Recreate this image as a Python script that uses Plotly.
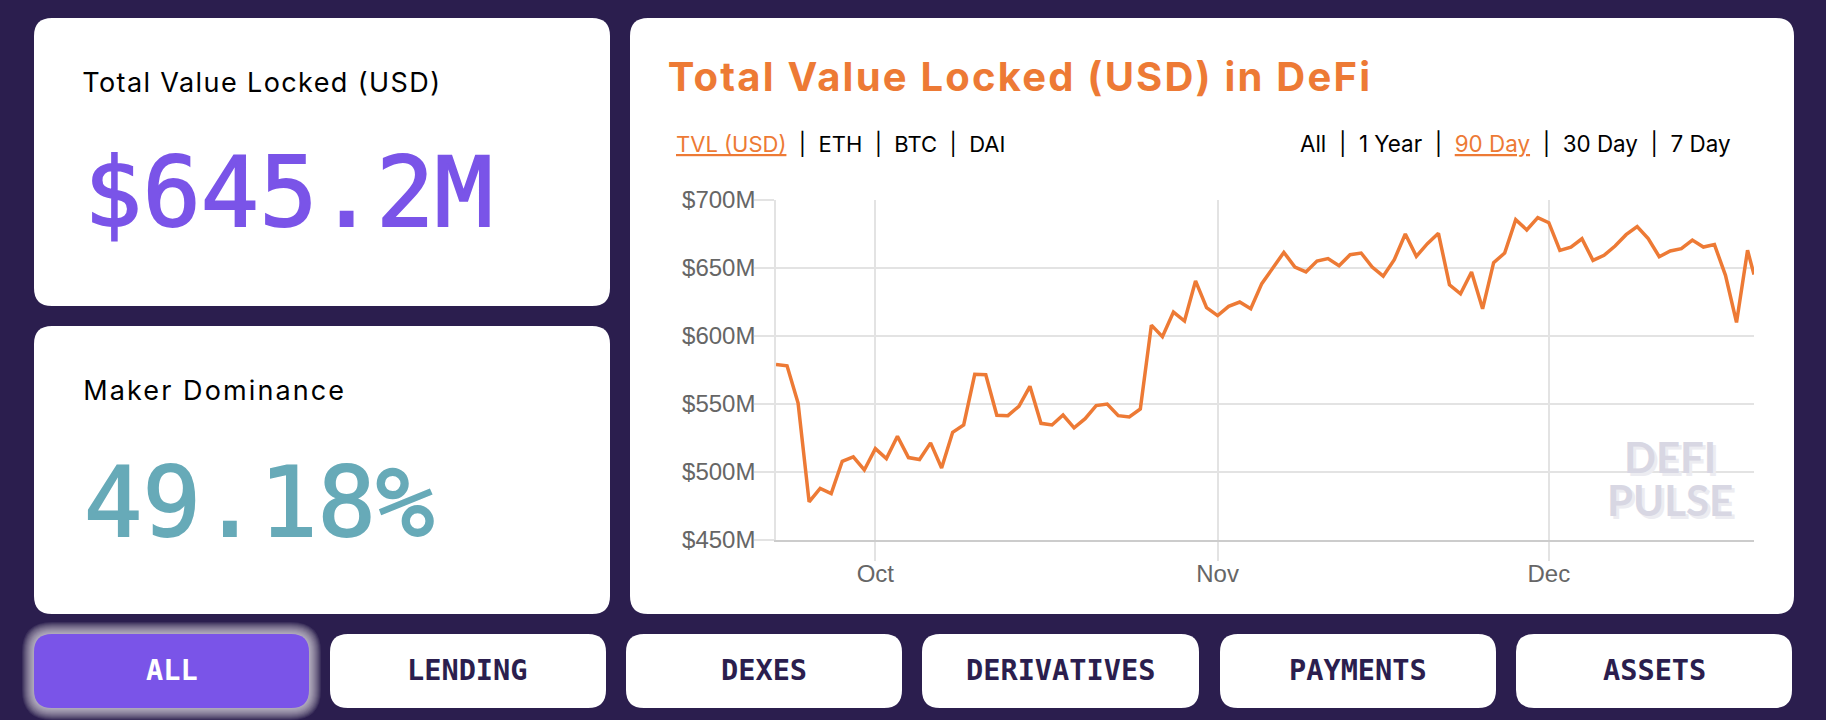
import pandas as pd
import plotly.graph_objects as go

# data (TVL in millions of USD, one point per day)
first_day = "2019-09-22"
last_stamp = "2019-12-19 14:00"
tvl = [
    579.1, 578.1, 550.7, 478.0, 487.9, 484.2, 507.9, 511.1, 501.5, 517.2,
    509.9, 526.3, 510.6, 509.2, 521.4, 503.0, 529.2, 534.6, 571.8, 571.5,
    541.7, 541.4, 548.3, 563.0, 535.8, 534.6, 541.9, 532.5, 539.2, 548.8,
    550.0, 541.4, 540.5, 546.3, 608.0, 599.5, 617.6, 611.0, 640.5, 620.8,
    615.0, 621.8, 625.0, 620.0, 638.5, 649.5, 661.5, 650.7, 647.1, 655.1,
    656.9, 651.7, 659.8, 661.0, 650.7, 644.0, 656.1, 675.0, 658.6, 667.9,
    675.5, 637.7, 631.0, 647.0, 620.0, 653.9, 661.0, 685.5, 678.0, 687.0,
    683.3, 663.0, 665.4, 671.5, 655.6, 659.3, 666.2, 674.5, 680.5, 671.6,
    658.3, 662.5, 664.2, 670.5, 665.4, 667.2, 644.6, 610.0, 663.0, 645.2,
]
y_ticks = [450, 500, 550, 600, 650, 700]
y_labels = ["$450M", "$500M", "$550M", "$600M", "$650M", "$700M"]
x_ticks = ["2019-10-01", "2019-11-01", "2019-12-01"]
x_labels = ["Oct", "Nov", "Dec"]

buttons = ["ALL", "LENDING", "DEXES", "DERIVATIVES", "PAYMENTS", "ASSETS"]
button_left = [34, 330, 626, 922, 1220, 1516]
button_right = [309, 606, 902, 1199, 1496, 1792]

W, H = 1826, 720
BG = "#2B1E4E"
PURPLE = "#7A54E8"
TEAL = "#67AAB8"
ORANGE = "#ED7A35"
DARK = "#2B1E4E"
SANS = "Inter"
MONO = "DejaVu Sans Mono"

dates = list(pd.date_range(first_day, periods=len(tvl) - 1, freq="D")) + [pd.Timestamp(last_stamp)]


def px(x):
    return x / W


def py(y):
    return 1 - y / H


# rounded box as an svg path, in paper coordinates
def box(x0, y0, x1, y1, r, color, opacity=1):
    d = (
        f"M {px(x0 + r)} {py(y0)} L {px(x1 - r)} {py(y0)} Q {px(x1)} {py(y0)} {px(x1)} {py(y0 + r)} "
        f"L {px(x1)} {py(y1 - r)} Q {px(x1)} {py(y1)} {px(x1 - r)} {py(y1)} "
        f"L {px(x0 + r)} {py(y1)} Q {px(x0)} {py(y1)} {px(x0)} {py(y1 - r)} "
        f"L {px(x0)} {py(y0 + r)} Q {px(x0)} {py(y0)} {px(x0 + r)} {py(y0)} Z"
    )
    return dict(type="path", path=d, xref="paper", yref="paper", layer="below",
                fillcolor=color, opacity=opacity, line=dict(width=0))


def label(x, y, text, size, color, font=SANS, anchor="left", shadow=None):
    f = dict(family=font, size=size, color=color)
    if shadow:
        f["shadow"] = shadow
    return dict(x=px(x), y=py(y), xref="paper", yref="paper", text=text, showarrow=False,
                xanchor=anchor, yanchor="middle", font=f, borderpad=0)


shapes = [
    box(34, 18, 610, 306, 18, "white"),
    box(34, 326, 610, 614, 18, "white"),
    box(630, 18, 1794, 614, 18, "white"),
]
# glow around the active button
for g in range(12, 0, -1):
    shapes.append(box(34 - g, 634 - g, 309 + g, 708 + g, 18 + g, "white", 0.08))
for i in range(len(buttons)):
    shapes.append(box(button_left[i], 634, button_right[i], 708, 18, PURPLE if i == 0 else "white"))

annotations = [
    label(98, 82, "Total Value Locked (USD)", 27, "black"),
    label(98, 390, "Maker Dominance", 27, "black"),
    label(83, 193, "$645.2M", 97, PURPLE, MONO),
    label(83, 502, "49.18%", 97, TEAL, MONO),
    label(702, 77, "<b>Total Value Locked (USD) in DeFi</b>", 40, ORANGE),
    label(675, 144, f'<span style="color:{ORANGE}"><u>TVL (USD)</u></span>  |  ETH  |  BTC  |  DAI', 22, "black"),
    label(1299, 144, f'All  |  1 Year  |  <span style="color:{ORANGE}"><u>90 Day</u></span>  |  30 Day  |  7 Day', 22.4, "black"),
    label(1670, 484, "<b>DEFI<br>PULSE</b>", 42, "#D8D7E3", "Lato", "center", "3px 3px 0 #ECECF1"),
]
for i, name in enumerate(buttons):
    annotations.append(
        label((button_left[i] + button_right[i]) / 2, 670, f"<b>{name}</b>", 28.6,
              "white" if i == 0 else DARK, MONO, "center")
    )

fig = go.Figure(go.Scatter(x=dates, y=tvl, mode="lines", line=dict(color=ORANGE, width=3.5), hoverinfo="x+y"))

fig.update_layout(
    width=W,
    height=H,
    margin=dict(l=0, r=0, t=0, b=0),
    paper_bgcolor=BG,
    plot_bgcolor="rgba(0,0,0,0)",
    showlegend=False,
    shapes=shapes,
    annotations=annotations,
    font=dict(family="Liberation Sans"),
    xaxis=dict(
        domain=[px(776), px(1754)],
        range=[first_day, last_stamp],
        automargin=False,
        tickvals=x_ticks,
        ticktext=x_labels,
        ticks="outside",
        ticklen=19,
        tickwidth=1.5,
        tickcolor="#E3E3E3",
        ticklabelstandoff=-8,
        gridcolor="#E3E3E3",
        gridwidth=1.5,
        showline=True,
        linecolor="#CCCCCC",
        linewidth=1.5,
        zeroline=False,
        tickfont=dict(size=24, color="#666666"),
    ),
    yaxis=dict(
        domain=[py(540), py(200)],
        range=[450, 700],
        automargin=False,
        tickvals=y_ticks,
        ticktext=y_labels,
        ticks="outside",
        ticklen=20,
        tickwidth=1.5,
        tickcolor="#E3E3E3",
        ticklabelstandoff=-6,
        gridcolor="#E3E3E3",
        gridwidth=1.5,
        showline=True,
        linecolor="#E3E3E3",
        linewidth=1.5,
        zeroline=False,
        tickfont=dict(size=24, color="#666666"),
    ),
)

# page margin off, big numbers a bit heavier, headings spaced out like the original,
# watermark lines pulled closer together
page_fix = """
document.body.style.margin='0';document.body.style.overflow='hidden';document.body.style.background='%s';
document.querySelectorAll('.annotation-text').forEach(function(t){
  var s=t.textContent;
  if(s==='$645.2M'||s==='49.18%%'){t.style.stroke=t.style.fill;t.style.strokeWidth='1.8px';}
  if(s==='Total Value Locked (USD)'){t.style.letterSpacing='1.4px';}
  if(s==='Maker Dominance'){t.style.letterSpacing='2.1px';}
  if(s==='Total Value Locked (USD) in DeFi'){t.style.letterSpacing='2.2px';}
  if(s.indexOf('PULSE')>=0){
    var lines=t.querySelectorAll('tspan.line');
    if(lines.length>1){lines[1].setAttribute('dy','1.02em');}
  }
});
""" % BG
fig.write_html("out.html", config=dict(displayModeBar=False), post_script=page_fix)
